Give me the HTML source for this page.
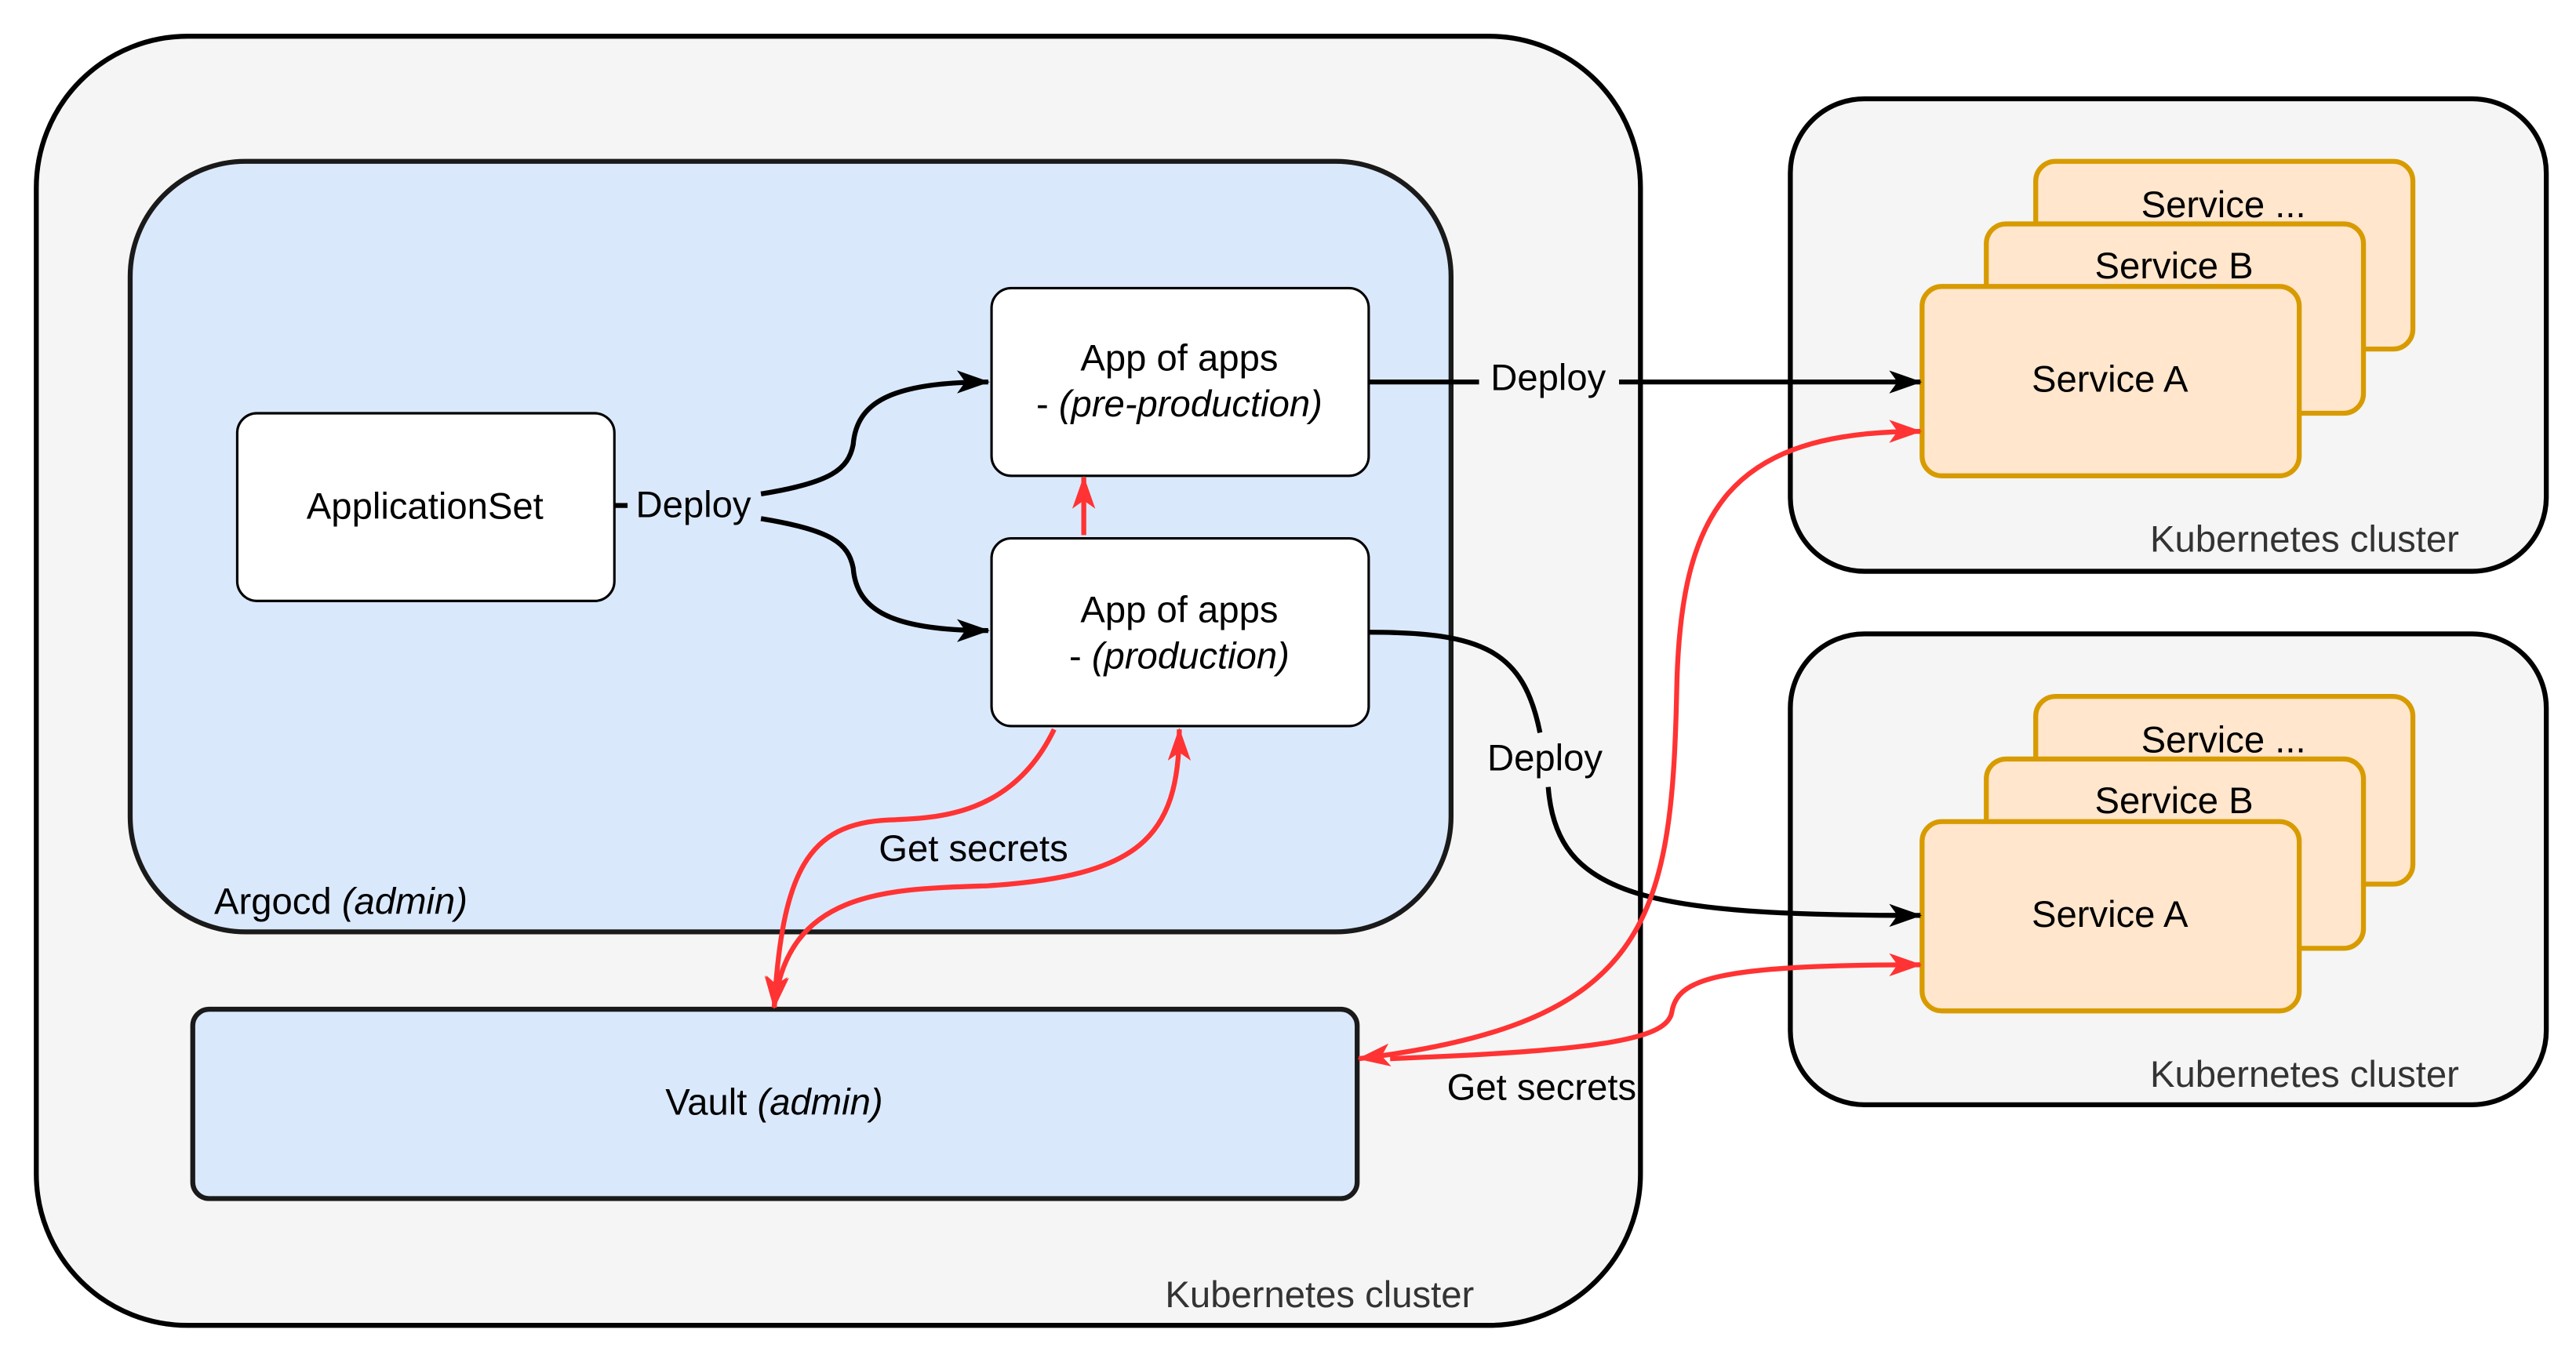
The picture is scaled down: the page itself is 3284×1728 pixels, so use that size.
<!DOCTYPE html>
<html><head><meta charset="utf-8"><style>html,body{margin:0;padding:0;background:#fff}svg{display:block}</style></head>
<body>
<svg width="3284" height="1728" viewBox="0 0 1564 823" xmlns="http://www.w3.org/2000/svg" font-family="Liberation Sans, Arial, sans-serif">
<defs>
<marker id="ab" viewBox="0 0 20 16" refX="19" refY="8" markerWidth="20" markerHeight="16" orient="auto-start-reverse" markerUnits="userSpaceOnUse"><path d="M0,1 L20,8 L0,15 L5,8 Z" fill="#000"/></marker>
<marker id="ar" viewBox="0 0 20 16" refX="19" refY="8" markerWidth="20" markerHeight="16" orient="auto-start-reverse" markerUnits="userSpaceOnUse"><path d="M0,1 L20,8 L0,15 L5,8 Z" fill="#ff3333"/></marker>
</defs>
<rect width="1564" height="823" fill="#fff"/>
<g font-size="22.5">
<rect x="22" y="22" width="974" height="783" rx="92" fill="#f5f5f5" stroke="#000" stroke-width="3"/>
<text x="895" y="794" text-anchor="end" fill="#333">Kubernetes cluster</text>
<rect x="79" y="98" width="802" height="468" rx="70" fill="#dae8fc" stroke="#1a1a1a" stroke-width="3"/>
<text x="130" y="555">Argocd <tspan font-style="italic">(admin)</tspan></text>
<rect x="144" y="251" width="229" height="114" rx="12" fill="#fff" stroke="#000" stroke-width="1.5"/>
<text x="258" y="315" text-anchor="middle">ApplicationSet</text>
<rect x="602" y="175" width="229" height="114" rx="12" fill="#fff" stroke="#000" stroke-width="1.5"/>
<text x="716" y="225" text-anchor="middle">App of apps</text>
<text x="716" y="253" text-anchor="middle">- <tspan font-style="italic">(pre-production)</tspan></text>
<rect x="602" y="327" width="229" height="114" rx="12" fill="#fff" stroke="#000" stroke-width="1.5"/>
<text x="716" y="378" text-anchor="middle">App of apps</text>
<text x="716" y="406" text-anchor="middle">- <tspan font-style="italic">(production)</tspan></text>
<rect x="117" y="613" width="707" height="115" rx="10" fill="#dae8fc" stroke="#1a1a1a" stroke-width="3"/>
<text x="470" y="677" text-anchor="middle">Vault <tspan font-style="italic">(admin)</tspan></text>
<g>
<rect x="1087" y="60" width="459" height="287" rx="45" fill="#f5f5f5" stroke="#000" stroke-width="3"/>
<text x="1493" y="335" text-anchor="end" fill="#333">Kubernetes cluster</text>
<rect x="1236" y="98" width="229" height="114" rx="12" fill="#ffe6cc" stroke="#d79b00" stroke-width="3"/>
<text x="1350" y="132" text-anchor="middle">Service ...</text>
<rect x="1206" y="136" width="229" height="115" rx="12" fill="#ffe6cc" stroke="#d79b00" stroke-width="3"/>
<text x="1320" y="169" text-anchor="middle">Service B</text>
<rect x="1167" y="174" width="229" height="115" rx="12" fill="#ffe6cc" stroke="#d79b00" stroke-width="3"/>
<text x="1281" y="238" text-anchor="middle">Service A</text>
</g>
<g transform="translate(0,325)">
<rect x="1087" y="60" width="459" height="286" rx="45" fill="#f5f5f5" stroke="#000" stroke-width="3"/>
<text x="1493" y="335" text-anchor="end" fill="#333">Kubernetes cluster</text>
<rect x="1236" y="98" width="229" height="114" rx="12" fill="#ffe6cc" stroke="#d79b00" stroke-width="3"/>
<text x="1350" y="132" text-anchor="middle">Service ...</text>
<rect x="1206" y="136" width="229" height="115" rx="12" fill="#ffe6cc" stroke="#d79b00" stroke-width="3"/>
<text x="1320" y="169" text-anchor="middle">Service B</text>
<rect x="1167" y="174" width="229" height="115" rx="12" fill="#ffe6cc" stroke="#d79b00" stroke-width="3"/>
<text x="1281" y="238" text-anchor="middle">Service A</text>
</g>
<g fill="none" stroke="#000" stroke-width="3">
<path d="M373 307 L381 307"/>
<path d="M462 300 C505 293 515 285 518 270 C520 245 540 232 600 232" marker-end="url(#ab)"/>
<path d="M462 315 C505 322 515 330 518 345 C520 370 540 383 600 383" marker-end="url(#ab)"/>
<path d="M831 232 L898 232"/>
<path d="M983 232 L1166 232" marker-end="url(#ab)"/>
<path d="M831 384 C900 384 925 395 935 445"/>
<path d="M940 478 C945 545 1000 556 1166 556" marker-end="url(#ab)"/>
</g>
<rect x="385" y="294" width="72" height="26" fill="#dae8fc"/>
<text x="421" y="314" text-anchor="middle">Deploy</text>
<text x="940" y="237" text-anchor="middle">Deploy</text>
<text x="938" y="468" text-anchor="middle">Deploy</text>
<g fill="none" stroke="#ff3333" stroke-width="3">
<path d="M658 325 L658 290" marker-end="url(#ar)"/>
<path d="M640 443 C615 495 570 497 540 498 C490 500 475 530 470 612" marker-end="url(#ar)"/>
<path d="M470 612 C478 540 540 540 600 538 C690 532 716 510 716 443" marker-start="url(#ar)" marker-end="url(#ar)"/>
<path d="M825 643 C1000 622 1015 560 1018 420 C1020 310 1050 262 1166 262" marker-start="url(#ar)" marker-end="url(#ar)"/>
<path d="M844 643 C980 638 1012 630 1015 615 C1018 595 1040 586 1166 586" marker-end="url(#ar)"/>
</g>
<text x="591" y="523" text-anchor="middle">Get secrets</text>
<text x="936" y="668" text-anchor="middle">Get secrets</text>
</g>
</svg>
</body></html>
